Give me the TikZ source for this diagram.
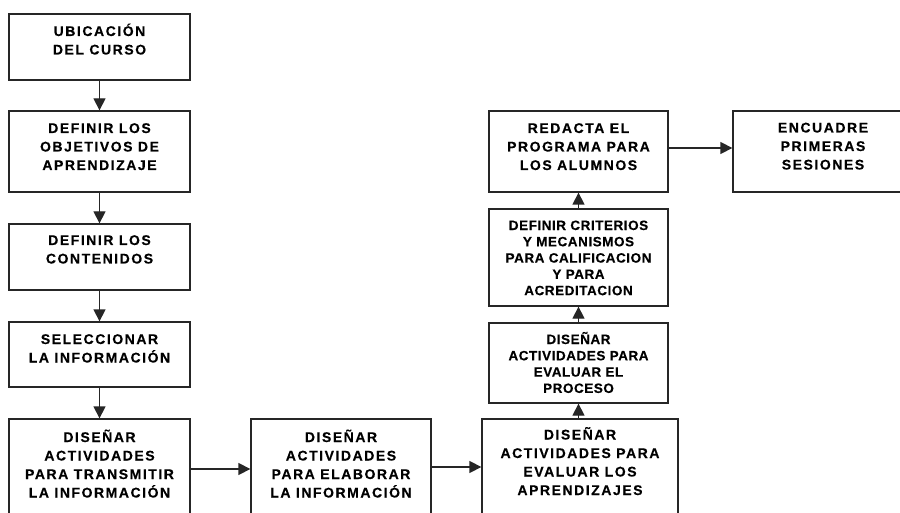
\documentclass[tikz,border=0pt]{standalone}
\usepackage{fontspec}
\newfontfamily\boxfont{Liberation Sans}[LetterSpace=11,FakeBold=0.3]
\newfontfamily\boxfontS{Liberation Sans}[LetterSpace=4,FakeBold=0.3]
\usetikzlibrary{arrows.meta}
\definecolor{ink}{HTML}{262626}
\tikzset{
  box/.style={draw=ink, line width=1.3pt, inner sep=0pt, rectangle},
  txt/.style={anchor=base, align=center, inner sep=0pt, text=black,
    font=\boxfont\bfseries\fontsize{14}{18.5}\selectfont},
  txtS/.style={anchor=base, align=center, inner sep=0pt, text=black,
    font=\boxfontS\bfseries\fontsize{13.5}{16.3}\selectfont},
  arr/.style={draw=ink, line width=1.3pt, -{Triangle[length=12pt,width=12pt]}},
}
\begin{document}
\begin{tikzpicture}[x=1pt,y=-1pt]
\useasboundingbox (0,0) rectangle (900,513);
\clip (0,0) rectangle (900,513);
\fill[white] (0,0) rectangle (900,513);
% left column
\node[box, minimum width=181pt, minimum height=66pt] (b1) at (99.5,47) {};
\node[txt] (t1) at (99.5,54.5) {UBICACIÓN\\DEL CURSO};
\node[box, minimum width=181pt, minimum height=81pt] (b2) at (99.5,151.5) {};
\node[txt] (t2) at (99.5,170) {DEFINIR LOS\\OBJETIVOS DE\\APRENDIZAJE};
\node[box, minimum width=181pt, minimum height=66pt] (b3) at (99.5,257) {};
\node[txt] (t3) at (99.5,263.5) {DEFINIR LOS\\CONTENIDOS};
\node[box, minimum width=181pt, minimum height=65pt] (b4) at (99.5,354.5) {};
\node[txt] (t4) at (99.5,362.5) {SELECCIONAR\\LA INFORMACIÓN};
\node[box, minimum width=181pt, minimum height=121pt] (b5) at (99.5,479.5) {};
\node[txt] (t5) at (99.5,497.5) {DISEÑAR\\ACTIVIDADES\\PARA TRANSMITIR\\LA INFORMACIÓN};
% middle
\node[box, minimum width=180pt, minimum height=121pt] (b6) at (341,479.5) {};
\node[txt] (t6) at (341,497.5) {DISEÑAR\\ACTIVIDADES\\PARA ELABORAR\\LA INFORMACIÓN};
% right column
\node[box, minimum width=196pt, minimum height=121pt] (b7) at (580,479.5) {};
\node[txt] (t7) at (580,495) {DISEÑAR\\ACTIVIDADES PARA\\EVALUAR LOS\\APRENDIZAJES};
\node[box, minimum width=179pt, minimum height=80pt] (b8) at (578.5,363) {};
\node[txtS] (t8) at (578.5,392.9) {DISEÑAR\\ACTIVIDADES PARA\\EVALUAR EL\\PROCESO};
\node[box, minimum width=179pt, minimum height=97pt] (b9) at (578.5,257.5) {};
\node[txtS] (t9) at (578.5,295.2) {DEFINIR CRITERIOS\\Y MECANISMOS\\PARA CALIFICACION\\Y PARA\\ACREDITACION};
\node[box, minimum width=179pt, minimum height=81pt] (b10) at (578.5,151.5) {};
\node[txt] (t10) at (578.5,170) {REDACTA EL\\PROGRAMA PARA\\LOS ALUMNOS};
\node[box, minimum width=180pt, minimum height=81pt] (b11) at (823,151.5) {};
\node[txt] (t11) at (823,169.5) {ENCUADRE\\PRIMERAS\\SESIONES};
% connectors
\draw[arr] (b1.south) -- (b2.north);
\draw[arr] (b2.south) -- (b3.north);
\draw[arr] (b3.south) -- (b4.north);
\draw[arr] (b4.south) -- (b5.north);
\draw[arr] ([yshift=10.5pt]b5.east) -- ([yshift=10.5pt]b6.west);
\draw[arr] ([yshift=12.5pt]b6.east) -- ([yshift=12.5pt]b7.west);
\draw[arr] (b7.north -| b8.south) -- (b8.south);
\draw[arr] (b8.north) -- (b9.south);
\draw[arr] (b9.north) -- (b10.south);
\draw[arr] ([yshift=3.5pt]b10.east) -- ([yshift=3.5pt]b11.west);
\end{tikzpicture}
\end{document}
